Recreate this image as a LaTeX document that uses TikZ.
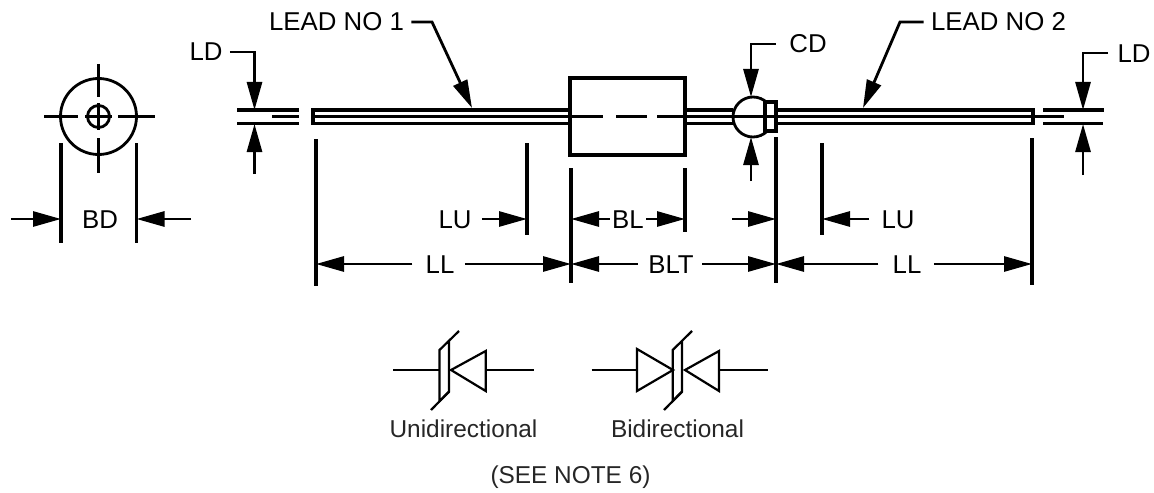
\documentclass[tikz,border=0pt]{standalone}
\usepackage{fontspec}
\setmainfont{Liberation Sans}
\usetikzlibrary{arrows.meta}
\tikzset{
  heavy/.style={line width=1.65pt},
  medium/.style={line width=1.4pt},
  thin line/.style={line width=1.15pt},
  dimline/.style={line width=1.4pt,-{Triangle[length=14pt,width=7.5pt]}},
  dimtext/.style={font=\fontsize{12.9}{14}\selectfont,inner xsep=0pt,inner ysep=0pt,text height=9pt,text depth=0pt},
  symtext/.style={font=\fontsize{12.2}{14}\selectfont,inner sep=0pt,text=black!85},
  symbol/.style={line width=1.1pt,line join=miter}
}
\begin{document}
\begin{tikzpicture}[x=0.5pt,y=-0.5pt]
\useasboundingbox (0,0) rectangle (1154,492);
\draw[medium] (98.5,116.5) circle (38);
\draw[medium] (98.5,116.5) circle (11);
\draw[medium] (44,116.5)--(78,116.5) (118,116.5)--(155,116.5) (85,116.5)--(112,116.5);
\draw[medium] (98.5,64)--(98.5,97) (98.5,103)--(98.5,130) (98.5,138)--(98.5,173);
\draw[heavy] (61,143)--(61,243) (136.5,143)--(136.5,243);
\node[dimtext] (BD) at (100,219) {BD};
\coordinate (BDa) at (11,219); \coordinate (BDb) at (61,219);
\coordinate (BDc) at (191,219); \coordinate (BDd) at (136.5,219);
\draw[dimline] (BDa)--(BDb);
\draw[dimline] (BDc)--(BDd);
\draw[heavy] (237,110)--(299,110) (237,123.5)--(299,123.5);
\draw[thin line] (272,116.5)--(299,116.5);
\draw[heavy] (570,110)--(313,110)--(313,123.5)--(570,123.5);
\draw[thin line] (313,116.5)--(570,116.5);
\draw[heavy] (570,78) rectangle (685,155);
\draw[medium] (571,116.5)--(603,116.5) (616,116.5)--(647,116.5) (657,116.5)--(733,116.5);
\draw[heavy] (685,110)--(733,110) (685,123.5)--(733,123.5);
\draw[medium] (753,117) circle (20);
\draw[thin line] (733,116.5)--(765,116.5);
\draw[heavy,fill=white] (765,102) rectangle (776,131);
\draw[thin line] (765,116.5)--(776,116.5);
\draw[heavy] (776,110)--(1033,110)--(1033,123.5)--(776,123.5);
\draw[thin line] (776,116.5)--(1064,116.5);
\draw[heavy] (1043,110)--(1104,110) (1043,123.5)--(1103,123.5);
\node[dimtext] (LDl) at (206,52) {LD};
\coordinate (LDltop) at (254.5,110); \coordinate (LDlbot) at (254.5,174); \coordinate (LDlend) at (254.5,124);
\draw[dimline] ([xshift=3.5pt]LDl.east)-|(LDltop);
\draw[dimline] (LDlbot)--(LDlend);
\node[dimtext] (LDr) at (1134,53) {LD};
\coordinate (LDrtop) at (1083,110); \coordinate (LDrbot) at (1083,175); \coordinate (LDrend) at (1083,124);
\draw[dimline] ([xshift=-4.5pt]LDr.west)-|(LDrtop);
\draw[dimline] (LDrbot)--(LDrend);
\node[dimtext] (CD) at (808,44) {CD};
\coordinate (CDtop) at (751,97); \coordinate (CDbot) at (751,181); \coordinate (CDend) at (751,137);
\draw[dimline] ([xshift=-6.5pt]CD.west)-|(CDtop);
\draw[dimline] (CDbot)--(CDend);
\node[dimtext] (leada) at (336.5,22) {LEAD NO 1};
\coordinate (leadatip) at (472,108);
\draw[dimline] ([xshift=3.5pt]leada.east)--(432,22)--(leadatip);
\node[dimtext] (leadb) at (998.5,22) {LEAD NO 2};
\coordinate (leadbtip) at (863,108);
\draw[dimline] ([xshift=-3.5pt]leadb.west)--(900,22)--(leadbtip);
\draw[heavy] (316,139)--(316,286) (527,143)--(527,235) (571,168)--(571,283) (685,168)--(685,232)
  (776,137)--(776,283) (822,143)--(822,235) (1032,138)--(1032,285);
\node[dimtext] (LUl) at (455,219) {LU};
\coordinate (LUla) at (527,219);
\draw[dimline] ([xshift=5pt]LUl.east)--(LUla);
\node[dimtext] (LUr) at (898,219) {LU};
\coordinate (LUra) at (822,219);
\draw[dimline] ([xshift=-6pt]LUr.west)--(LUra);
\node[dimtext] (BL) at (628,219) {BL};
\coordinate (BLa) at (571,219); \coordinate (BLb) at (685,219);
\draw[dimline] ([xshift=-1pt]BL.west)--(BLa);
\draw[dimline] ([xshift=1pt]BL.east)--(BLb);
\coordinate (BLTs) at (732,219); \coordinate (BLTe) at (776,219);
\draw[dimline] (BLTs)--(BLTe);
\node[dimtext] (LLl) at (440,264) {LL};
\coordinate (LLla) at (316,264); \coordinate (LLlb) at (571,264);
\draw[dimline] ([xshift=-6.5pt]LLl.west)--(LLla);
\draw[dimline] ([xshift=5pt]LLl.east)--(LLlb);
\node[dimtext] (BLT) at (671,264) {BLT};
\coordinate (BLTa) at (571,264); \coordinate (BLTb) at (776,264);
\draw[dimline] ([xshift=-5pt]BLT.west)--(BLTa);
\draw[dimline] ([xshift=4pt]BLT.east)--(BLTb);
\node[dimtext] (LLr) at (907,264) {LL};
\coordinate (LLra) at (776,264); \coordinate (LLrb) at (1032,264);
\draw[dimline] ([xshift=-7pt]LLr.west)--(LLra);
\draw[dimline] ([xshift=6pt]LLr.east)--(LLrb);
\draw[symbol] (393,370)--(439.5,370);
\draw[symbol] (459,331)--(439.5,350)--(439.5,401)--(449,391.7)--(449,341.7);
\draw[symbol] (449,391.7)--(431,410);
\draw[symbol] (451,370)--(485.7,351)--(485.7,391)--cycle;
\draw[symbol] (485.7,370)--(534,370);
\draw[symbol] (591.7,370)--(637,370);
\draw[symbol] (637,349)--(673,370)--(637,391)--cycle;
\draw[symbol] (692,331)--(672.7,350)--(672.7,401)--(682,391.7)--(682,341.7);
\draw[symbol] (682,391.7)--(664,410);
\draw[symbol] (685,370)--(719,351)--(719,391)--cycle;
\draw[symbol] (719,370)--(767.7,370);
\node[symtext] (uni) at (463.5,429) {Unidirectional};
\node[symtext] (bi) at (677.5,429) {Bidirectional};
\node[symtext] (note) at (570.5,477) {(SEE NOTE 6)};
\end{tikzpicture}
\end{document}
